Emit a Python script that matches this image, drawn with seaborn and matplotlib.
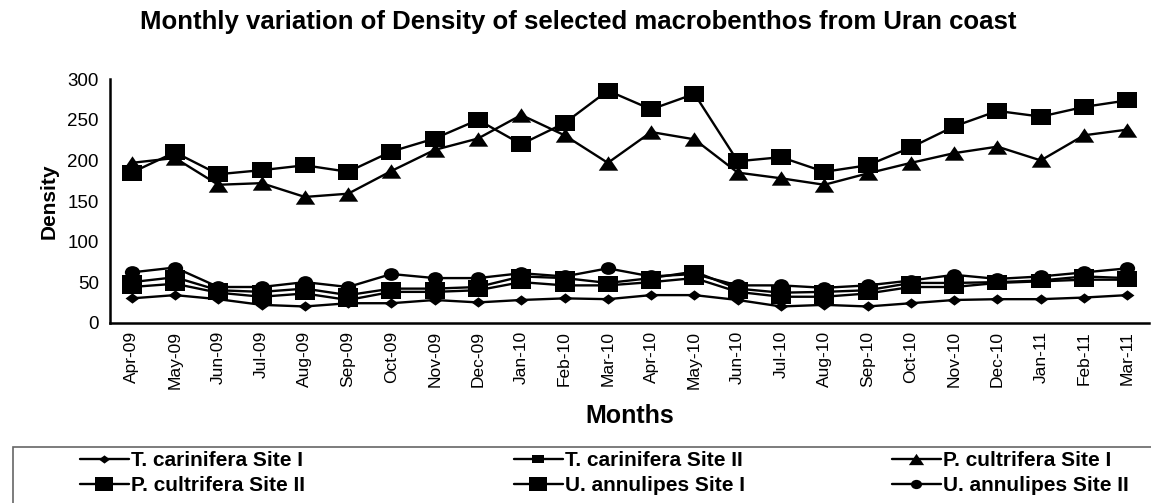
import numpy as np
import pandas as pd
import matplotlib
matplotlib.use("Agg")
import matplotlib.pyplot as plt
import seaborn as sns
from matplotlib.path import Path
from matplotlib.lines import Line2D
from matplotlib.patches import Rectangle

months = ["Apr-09", "May-09", "Jun-09", "Jul-09", "Aug-09", "Sep-09", "Oct-09", "Nov-09",
          "Dec-09", "Jan-10", "Feb-10", "Mar-10", "Apr-10", "May-10", "Jun-10", "Jul-10",
          "Aug-10", "Sep-10", "Oct-10", "Nov-10", "Dec-10", "Jan-11", "Feb-11", "Mar-11"]

t_carinifera_site1 = [30, 34, 29, 22, 20, 24, 24, 28, 25, 28, 30, 29, 34, 34, 28, 20, 22, 20, 24, 28, 29, 29, 31, 34]
t_carinifera_site2 = [44, 48, 37, 32, 36, 28, 38, 38, 40, 50, 46, 46, 50, 55, 38, 32, 32, 36, 44, 44, 49, 51, 53, 53]
p_cultrifera_site1 = [197, 203, 170, 172, 155, 159, 187, 213, 227, 256, 231, 197, 235, 226, 185, 178, 170, 184, 197, 209, 217, 200, 231, 238]
p_cultrifera_site2 = [185, 210, 183, 188, 194, 186, 211, 227, 250, 220, 246, 286, 263, 282, 199, 204, 186, 194, 216, 242, 261, 254, 266, 274]
u_annulipes_site1 = [50, 56, 40, 38, 42, 34, 42, 42, 44, 57, 55, 49, 55, 63, 42, 37, 38, 40, 49, 49, 50, 52, 57, 55]
u_annulipes_site2 = [62, 68, 44, 44, 50, 44, 60, 55, 55, 61, 57, 67, 57, 60, 46, 46, 43, 46, 52, 59, 54, 57, 62, 67]

series_names = ["T. carinifera Site I", "T. carinifera Site II", "P. cultrifera Site I",
                "P. cultrifera Site II", "U. annulipes Site I", "U. annulipes Site II"]
series_values = [t_carinifera_site1, t_carinifera_site2, p_cultrifera_site1,
                 p_cultrifera_site2, u_annulipes_site1, u_annulipes_site2]

sns.set_theme(style="white")
plt.rcParams['font.family'] = ['Liberation Sans', 'DejaVu Sans']
plt.rcParams.update({"text.color": "black", "axes.labelcolor": "black",
                     "xtick.color": "black", "ytick.color": "black"})

# horizontally stretched marker shapes
sx = 1.35
sq = Path([(-0.5 * sx, -0.5), (0.5 * sx, -0.5), (0.5 * sx, 0.5), (-0.5 * sx, 0.5), (-0.5 * sx, -0.5)],
          [Path.MOVETO, Path.LINETO, Path.LINETO, Path.LINETO, Path.CLOSEPOLY])
tri = Path([(-0.5 * sx, -0.5), (0.5 * sx, -0.5), (0, 0.5), (-0.5 * sx, -0.5)],
           [Path.MOVETO, Path.LINETO, Path.LINETO, Path.CLOSEPOLY])
dia = Path([(-0.5 * sx, 0), (0, 0.5), (0.5 * sx, 0), (0, -0.5), (-0.5 * sx, 0)],
           [Path.MOVETO, Path.LINETO, Path.LINETO, Path.LINETO, Path.CLOSEPOLY])
uc = Path.unit_circle()
circ = Path(uc.vertices * np.array([1.2, 1.0]), uc.codes)

markers = [dia, sq, tri, sq, sq, circ]
plot_ms = [10, 14.0, 14, 15, 14.0, 11]
leg_ms = [8, 8, 11, 13, 13, 8]

fig = plt.figure(figsize=(11.51, 5.03), dpi=100)
W, H = 1151, 503
ax = fig.add_axes([110 / W, 1 - 322.7 / H, (1149 - 110) / W, (322.7 - 79.3) / H])

x = np.arange(len(months))
for name, vals, mk, ms in zip(series_names, series_values, markers, plot_ms):
    df = pd.DataFrame({"m": x, "v": vals})
    sns.lineplot(data=df, x="m", y="v", ax=ax, color="black", linewidth=1.7,
                 marker=mk, markersize=ms, markeredgecolor="black",
                 markerfacecolor="black", markeredgewidth=0, legend=False)

ax.set_xlim(-0.5, len(months) - 0.5)
ax.set_ylim(0, 300)
ax.set_yticks([0, 50, 100, 150, 200, 250, 300])
ax.set_xticks(x)
ax.set_xticklabels(months, rotation=90, fontsize=12.5)
ax.set_xticks(np.arange(len(months) + 1) - 0.5, minor=True)
ax.tick_params(axis="x", which="major", length=0, pad=6)
ax.tick_params(axis="x", which="minor", length=5, width=1.5, color="black", direction="out")
ax.tick_params(axis="y", which="major", length=5, width=1.5, color="black", direction="out",
               labelsize=13.5, pad=3)
ax.grid(False)
for s in ["top", "right"]:
    ax.spines[s].set_visible(False)
for s in ["left", "bottom"]:
    ax.spines[s].set_color("black")
    ax.spines[s].set_linewidth(1.8)

ax.set_xlabel("Months", fontsize=18, fontweight="bold", labelpad=11)
ax.set_ylabel("Density", fontsize=15, fontweight="bold", labelpad=6)
fig.text(578 / W, 1 - 28.5 / H, "Monthly variation of Density of selected macrobenthos from Uran coast",
         ha="center", va="baseline", fontsize=18.5, fontweight="bold")

# legend box
fig.add_artist(Rectangle((13 / W, -0.2), 1.2, 0.2 + (1 - 447 / H), transform=fig.transFigure,
                         fill=False, edgecolor="#666666", linewidth=1.2))

handles = [Line2D([0], [0], color="black", linewidth=1.7, marker=mk, markersize=ms,
                  markerfacecolor="black", markeredgewidth=0)
           for mk, ms in zip(markers, leg_ms)]

cols = [(80, [0, 3]), (514, [1, 4]), (892, [2, 5])]
for xpos, idxs in cols:
    leg = fig.legend([handles[i] for i in idxs], [series_names[i] for i in idxs],
                     loc="upper left", bbox_to_anchor=(xpos / W, 1 - 451 / H),
                     frameon=False, borderpad=0, borderaxespad=0, handlelength=2.35,
                     handletextpad=0.1, labelspacing=0.3,
                     prop={"family": ["Liberation Sans", "DejaVu Sans"], "weight": "bold", "size": 15})

fig.savefig("out.png", dpi=100)
